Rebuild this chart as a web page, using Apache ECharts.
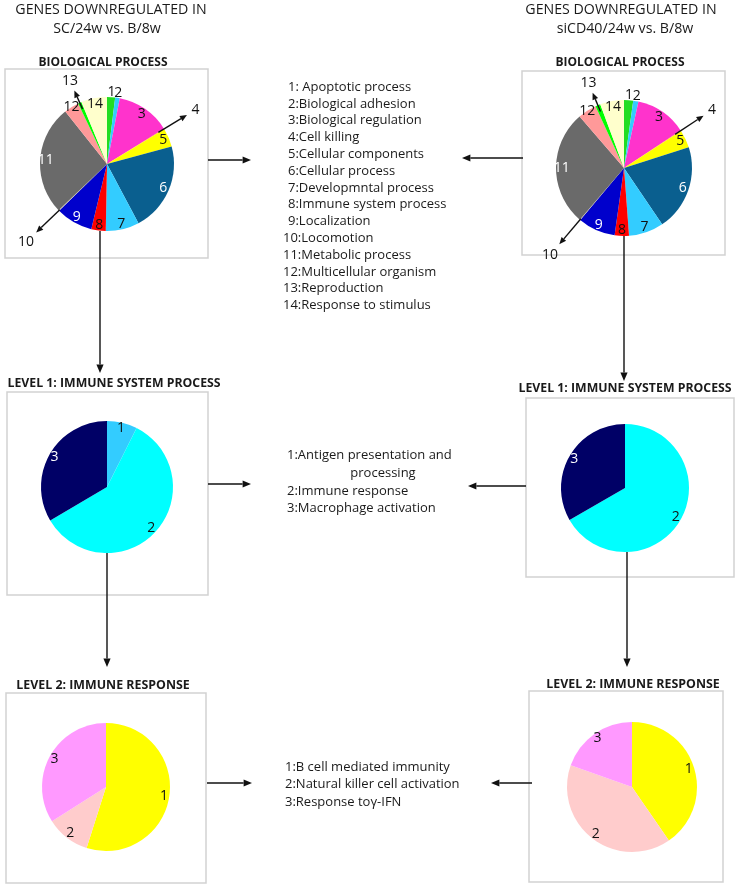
<!DOCTYPE html>
<html><head><meta charset="utf-8">
<script src="https://cdn.jsdelivr.net/npm/echarts@6/dist/echarts.min.js"></script>
<style>html,body{margin:0;padding:0;background:#fff}#c{width:738px;height:886px}</style>
</head><body><div id="c"></div>
<script>
// ---------- DATA ----------
const bpCategories = ['1','2','3','4','5','6','7','8','9','10','11','12','13','14'];
const bpTerms = ['1: Apoptotic process','2:Biological adhesion','3:Biological regulation','4:Cell killing',
  '5:Cellular components','6:Cellular process','7:Developmntal process','8:Immune system process',
  '9:Localization','10:Locomotion','11:Metabolic process','12:Multicellular organism','13:Reproduction',
  '14:Response to stimulus'];
const bpSC     = [7, 4, 47, 0.6, 16, 77, 29, 12.5, 32, 0.6, 95, 13, 3, 22.4];
const bpSiCD40 = [7.8, 4.5, 44.2, 0.5, 15.4, 73.7, 29.9, 12.2, 32.2, 0.5, 98.8, 16, 4.3, 20.5];

const isCategories = ['1','2','3'];
const isTerms = ['1:Antigen presentation and', 'processing', '2:Immune response', '3:Macrophage activation'];
const isSC     = [7.4, 59.1, 33.5];
const isSiCD40 = [0, 66.7, 33.3];

const irCategories = ['1','2','3'];
const irTerms = ['1:B cell mediated immunity', '2:Natural killer cell activation', '3:Response to\u03b3-IFN'];
const irSC     = [54.9, 11.1, 34.0];
const irSiCD40 = [40.4, 40.0, 19.6];

const leftTitle  = ['GENES DOWNREGULATED IN', 'SC/24w vs. B/8w'];
const rightTitle = ['GENES DOWNREGULATED IN', 'siCD40/24w vs. B/8w'];
const panelTitles = ['BIOLOGICAL PROCESS', 'LEVEL 1: IMMUNE SYSTEM PROCESS', 'LEVEL 2: IMMUNE RESPONSE'];

// ---------- STYLES ----------
const FONT = '"Open Sans"';
const TXT = '#1a1a1a';
const bpColors = ['#22DD22','#33CCFF','#FF33CC','#FF9933','#FFFF00','#0A5F8F','#33CCFF','#FF0000','#0000CC','#D8D0B0','#6A6A6A','#FF9999','#00FF00','#FFFFCC'];
const bpLabelColors = bpCategories.map((c,i)=>[5,8,10].includes(i)?'#fff':'#111');
const isColors = ['#33CCFF','#00FFFF','#000066'];
const isLabelColors = ['#111','#111','#fff'];
const irColors = ['#FFFF00','#FFCCCC','#FF99FF'];
const irLabelColors = ['#111','#111','#111'];
const LABEL_SIZE = 14;

const series = [];
const graphic = [];

function sum(a){return a.reduce((s,v)=>s+v,0);}
function midAngle(values,i){let acc=0;for(let j=0;j<i;j++)acc+=values[j];return (acc+values[i]/2)/sum(values)*2*Math.PI;}
function polar(cx,cy,a,d){return [cx+Math.sin(a)*d, cy-Math.cos(a)*d];}

function addPie(values, names, colors, labelColors, cx, cy, r, opts){
  opts = opts || {};
  const rim = opts.rim || {};
  const arrows = opts.arrows || {};
  const common = {type:'pie', center:[cx,cy], startAngle:90, clockwise:true, silent:true, animation:false,
    avoidLabelOverlap:false, minAngle:0};
  series.push(Object.assign({}, common, {
    radius:[0,r], label:{show:false}, labelLine:{show:false},
    itemStyle:{borderWidth:0},
    data: values.map((v,i)=>({value:v, name:names[i], itemStyle:{color:colors[i]}}))
  }));
  // inner labels
  series.push(Object.assign({}, common, {
    radius:[0.74*r, r], labelLine:{show:false},
    itemStyle:{color:'rgba(0,0,0,0)'},
    label:{show:true, position:'inside', formatter:'{b}', fontFamily:FONT, fontSize:LABEL_SIZE},
    data: values.map((v,i)=>({value:v, name:names[i],
      label:{show: v>0 && !(i in rim) && !(i in arrows), color:labelColors[i]}}))
  }));
  // labels just outside the rim
  Object.keys(rim).forEach(k=>{
    const i=+k, p = polar(cx,cy,midAngle(values,i),rim[k]*r);
    graphic.push({type:'text', z:10, x:p[0], y:p[1],
      style:{text:names[i], fill:'#111', font:LABEL_SIZE+'px '+FONT, textAlign:'center', textVerticalAlign:'middle'}});
  });
  // arrow annotations for tiny slices
  Object.keys(arrows).forEach(k=>{
    const i = +k, a = midAngle(values,i), cfg = arrows[k];
    const s = polar(cx,cy,a,cfg[0]*r), e = polar(cx,cy,a,cfg[1]*r), t = polar(cx,cy,a,cfg[2]*r);
    addArrow(s[0],s[1],e[0],e[1],5);
    graphic.push({type:'text', z:10, x:t[0], y:t[1],
      style:{text:names[i], fill:'#111', font:LABEL_SIZE+'px '+FONT, textAlign:'center', textVerticalAlign:'middle'}});
  });
}

function addArrow(x1,y1,x2,y2,hs){
  hs = hs || 6;
  const dx=x2-x1, dy=y2-y1, L=Math.hypot(dx,dy), ux=dx/L, uy=dy/L;
  const bx = x2-ux*hs*1.4, by=y2-uy*hs*1.4;
  graphic.push({type:'line', z:10, shape:{x1,y1,x2:bx,y2:by}, style:{stroke:'#111', lineWidth:1.4}});
  graphic.push({type:'polygon', z:10, shape:{points:[[x2,y2],[bx-uy*hs*0.6,by+ux*hs*0.6],[bx+uy*hs*0.6,by-ux*hs*0.6]]}, style:{fill:'#111'}});
}
function addBox(x1,y1,x2,y2){
  graphic.push({type:'rect', z:0, shape:{x:x1,y:y1,width:x2-x1,height:y2-y1}, style:{fill:'none', stroke:'#d2d2d2', lineWidth:1.5}});
}
function addText(t,x,y,size,weight,align){
  graphic.push({type:'text', z:10, x, y, style:{text:t, fill:TXT, font:(weight||'normal')+' '+size+'px '+FONT,
    textAlign:align||'center', textVerticalAlign:'middle'}});
}

// ---------- LAYOUT ----------
addBox(5,69,208,258); addBox(522,71,725,255);
addBox(7,392,208,595); addBox(526,398,734,577);
addBox(6,693,206,883); addBox(529,691,723,882);

const bpRim = {0:1.07, 1:1.08, 11:1.0};
const bpArrows = {3:[0.9,1.4,1.55], 9:[0.98,1.47,1.68], 12:[0.9,1.2,1.36]};
addPie(bpSC, bpCategories, bpColors, bpLabelColors, 107,164,67, {rim:bpRim, arrows:bpArrows});
addPie(bpSiCD40, bpCategories, bpColors, bpLabelColors, 624,168,68, {rim:bpRim, arrows:bpArrows});
addPie(isSC, isCategories, isColors, isLabelColors, 107,487,66);
addPie(isSiCD40, isCategories, isColors, isLabelColors, 625,488,64);
addPie(irSC, irCategories, irColors, irLabelColors, 106,787,64);
addPie(irSiCD40, irCategories, irColors, irLabelColors, 632,787,65);

// headings
addText(leftTitle[0],111,10,14.2); addText(leftTitle[1],107,29,14.2);
addText(rightTitle[0],621,10,14.2); addText(rightTitle[1],625,29,14.2);
addText(panelTitles[0],103,63,12,'bold'); addText(panelTitles[0],620,63,12,'bold');
addText(panelTitles[1],114,383,12.3,'bold'); addText(panelTitles[1],625,388,12.3,'bold');
addText(panelTitles[2],103,685,12.4,'bold'); addText(panelTitles[2],633,684,12.4,'bold');

// term lists
bpTerms.forEach((t,i)=>addText(t, i<9?288:283, 87+i*16.8, 13, 'normal', 'left'));
addText(isTerms[0],287,455,13,'normal','left');
addText(isTerms[1],383,473,13,'normal','center');
addText(isTerms[2],287,491,13,'normal','left');
addText(isTerms[3],287,508,13,'normal','left');
irTerms.forEach((t,i)=>addText(t,285,767+i*17.5,13,'normal','left'));

// flow arrows
addArrow(208,160,251,160); addArrow(523,158,462,158);
addArrow(100,231,100,373); addArrow(624,236,624,381);
addArrow(208,484,251,484); addArrow(526,486,468,486);
addArrow(107,553,107,667); addArrow(627,552,627,667);
addArrow(207,783,252,783); addArrow(532,783,491,783);

const chart = echarts.init(document.getElementById('c'), null, {renderer:'canvas'});
chart.setOption({backgroundColor:'#fff', animation:false, series, graphic});
</script></body></html>
